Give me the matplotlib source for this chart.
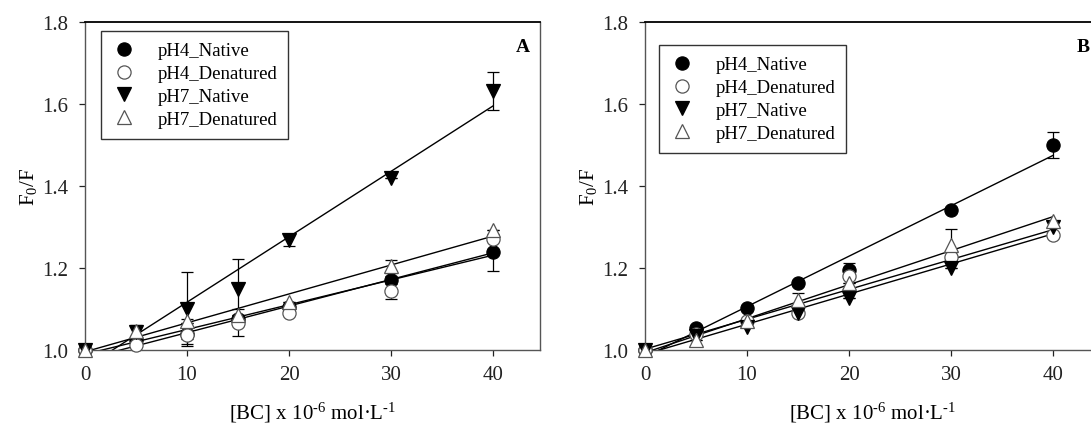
import numpy as np
import matplotlib
matplotlib.use("Agg")
import matplotlib.pyplot as plt

plt.rcParams["font.family"] = ["Liberation Serif", "DejaVu Serif"]
plt.rcParams["mathtext.fontset"] = "custom"
plt.rcParams["mathtext.rm"] = "Liberation Serif"
plt.rcParams["mathtext.it"] = "Liberation Serif:italic"

conc = [0, 5, 10, 15, 20, 30, 40]
series_names = ["pH4_Native", "pH4_Denatured", "pH7_Native", "pH7_Denatured"]

# panel A
a_ph4_native = [1.0, 1.024, 1.040, 1.075, 1.105, 1.171, 1.238]
a_ph4_denat = [1.0, 1.012, 1.037, 1.067, 1.090, 1.145, 1.270]
a_ph7_native = [1.0, 1.045, 1.100, 1.148, 1.269, 1.420, 1.632]
a_ph7_denat = [1.0, 1.046, 1.070, 1.085, 1.118, 1.204, 1.293]
a_ph4_native_err = [0, 0.010, 0.025, 0, 0, 0.010, 0.045]
a_ph4_denat_err = [0, 0, 0.010, 0.032, 0, 0.020, 0]
a_ph7_native_err = [0, 0.010, 0.090, 0.075, 0.015, 0, 0.047]
a_ph7_denat_err = [0, 0.015, 0.005, 0, 0, 0.015, 0]

# panel B
b_ph4_native = [1.0, 1.053, 1.102, 1.163, 1.196, 1.342, 1.500]
b_ph4_denat = [1.0, 1.040, 1.070, 1.090, 1.180, 1.228, 1.281]
b_ph7_native = [1.0, 1.035, 1.057, 1.090, 1.126, 1.200, 1.300]
b_ph7_denat = [1.0, 1.024, 1.070, 1.122, 1.163, 1.257, 1.314]
b_ph4_native_err = [0, 0, 0, 0, 0.015, 0, 0.031]
b_ph4_denat_err = [0, 0, 0, 0, 0, 0.015, 0]
b_ph7_native_err = [0, 0, 0, 0, 0, 0, 0]
b_ph7_denat_err = [0, 0, 0, 0.016, 0, 0.038, 0]

x_ticks = [0, 10, 20, 30, 40]
y_ticks = [1.0, 1.2, 1.4, 1.6, 1.8]

styles = [
    dict(marker="o", mfc="black", mec="black"),
    dict(marker="o", mfc="white", mec="#555555"),
    dict(marker="v", mfc="black", mec="black"),
    dict(marker="^", mfc="white", mec="#555555"),
]

fig = plt.figure(figsize=(10.91, 4.27), dpi=100)
ax_a = fig.add_axes([85 / 1091, 76 / 427, 455 / 1091, 328 / 427])
ax_b = fig.add_axes([645 / 1091, 76 / 427, 455 / 1091, 328 / 427])


def draw_panel(ax, ys, errs, tag, legend_box):
    x = np.array(conc, dtype=float)
    # regression lines first, markers on top
    for y in ys:
        k, b = np.polyfit(x, y, 1)
        xx = np.array([0, 40])
        ax.plot(xx, k * xx + b, color="black", lw=1.0, zorder=2)
    handles = []
    for y, e, st, name in zip(ys, errs, styles, series_names):
        e = np.array(e)
        ax.errorbar(x, y, yerr=e, fmt="none", ecolor="black", elinewidth=0.9,
                    capsize=4.5, capthick=0.9, zorder=3)
        h, = ax.plot(x, y, linestyle="none", markersize=9.5, mew=0.9,
                     label=name, zorder=4, clip_on=False, **st)
        handles.append(h)

    ax.set_xlim(0, 44.6)
    ax.set_ylim(1.0, 1.8)
    ax.set_xticks(x_ticks)
    ax.set_yticks(y_ticks)
    ax.set_yticklabels([f"{v:.1f}" for v in y_ticks])
    ax.tick_params(direction="out", length=4, width=0.9, labelsize=15,
                   colors="#222222")
    ax.tick_params(axis="x", pad=7)
    ax.tick_params(axis="y", pad=8)
    for side in ("left", "bottom", "right"):
        ax.spines[side].set_color("#555555")
        ax.spines[side].set_linewidth(1.0)
    ax.spines["top"].set_color("black")
    ax.spines["top"].set_linewidth(1.3)

    ax.set_xlabel("[BC] x 10$^{\u2010 6}$ mol·L$^{\u2010 1}$", fontsize=15, labelpad=11)
    ax.set_ylabel(r"F$_0$/F", fontsize=15, labelpad=2)
    ax.text(0.962, 0.925, tag, transform=ax.transAxes, fontsize=14,
            fontweight="bold", ha="center", va="center")

    leg = ax.legend(handles=handles, loc="upper left", bbox_to_anchor=legend_box,
                    fontsize=13.5, frameon=True, fancybox=False, edgecolor="black",
                    handlelength=1.2, handletextpad=1.2, labelspacing=0.3,
                    borderpad=0.6, borderaxespad=0)
    leg.get_frame().set_linewidth(1.0)


draw_panel(ax_a,
           [a_ph4_native, a_ph4_denat, a_ph7_native, a_ph7_denat],
           [a_ph4_native_err, a_ph4_denat_err, a_ph7_native_err, a_ph7_denat_err],
           "A", ((101 - 85) / 455, (351 - 32) / 328))
draw_panel(ax_b,
           [b_ph4_native, b_ph4_denat, b_ph7_native, b_ph7_denat],
           [b_ph4_native_err, b_ph4_denat_err, b_ph7_native_err, b_ph7_denat_err],
           "B", ((659 - 645) / 455, (351 - 46) / 328))

fig.savefig("out.png", dpi=100)
